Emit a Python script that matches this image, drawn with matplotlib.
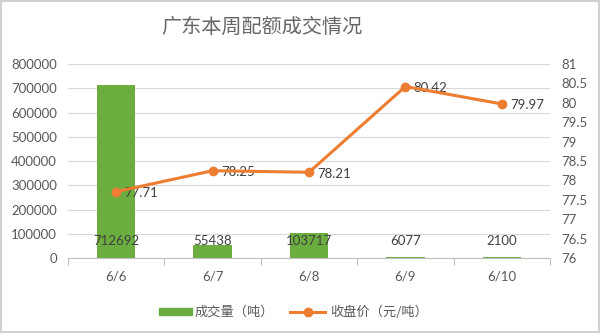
import matplotlib
matplotlib.use("Agg")
import matplotlib.pyplot as plt
from matplotlib.patches import Rectangle
import numpy as np

dates = ["6/6", "6/7", "6/8", "6/9", "6/10"]
volume = [712692, 55438, 103717, 6077, 2100]
price = [77.71, 78.25, 78.21, 80.42, 79.97]
left_ticks = [0, 100000, 200000, 300000, 400000, 500000, 600000, 700000, 800000]
right_ticks = [76, 76.5, 77, 77.5, 78, 78.5, 79, 79.5, 80, 80.5, 81]

CJK = ["Noto Sans CJK SC", "DejaVu Sans"]
NUM = "Lato"
TXT = "#595959"
GREEN = "#6BAE3F"
ORANGE = "#ED7D31"

fig = plt.figure(figsize=(6, 3.36), dpi=100)
W, H = 600, 336
ax = fig.add_axes([68 / W, 1 - 258 / H, (550 - 68) / W, (258 - 64) / H])
ax2 = ax.twinx()

x = np.arange(len(dates))
ax.bar(x, volume, width=0.4, color=GREEN, zorder=2)
ax.set_ylim(0, 800000)
ax.set_xlim(-0.5, len(dates) - 0.5)
ax.set_yticks(left_ticks)
ax.set_yticklabels([str(v) for v in left_ticks], fontsize=9.5, color=TXT, family=NUM)
ax.set_xticks(x)
ax.set_xticklabels(dates, fontsize=9.5, color=TXT, family=NUM)
ax.tick_params(axis="x", length=0, pad=9)
ax.tick_params(axis="y", length=0, pad=8)
ax.set_xticks(np.arange(-0.5, len(dates), 1), minor=True)
ax.tick_params(axis="x", which="minor", length=5, color="#BFBFBF", width=0.8)
ax.grid(axis="y", color="#D9D9D9", linewidth=0.8, zorder=0)
for s in ["top", "right", "left"]:
    ax.spines[s].set_visible(False)
    ax2.spines[s].set_visible(False)
ax2.spines["bottom"].set_visible(False)
ax.spines["bottom"].set_color("#BFBFBF")
ax.spines["bottom"].set_linewidth(0.8)

for xi, v in zip(x, volume):
    ax.annotate(str(v), (xi, 0), xytext=(0, 12), textcoords="offset points",
                ha="center", va="center", fontsize=9.5, color="#404040", family=NUM, zorder=5)

ax2.plot(x, price, color=ORANGE, linewidth=2.2, marker="o", markersize=6, zorder=4)
ax2.set_ylim(76, 81)
ax2.set_yticks(right_ticks)
ax2.set_yticklabels([f"{v:g}" for v in right_ticks], fontsize=9.5, color=TXT, family=NUM)
ax2.tick_params(axis="y", length=0, pad=8)
for xi, v in zip(x, price):
    ax2.annotate(f"{v:.2f}", (xi, v), xytext=(6, -1), textcoords="offset points",
                 ha="left", va="center", fontsize=9.5, color="#404040", family=NUM)

fig.text(262 / W, 1 - 27 / H, "广东本周配额成交情况", ha="center", va="center",
         fontsize=14.5, color="#666666", family=CJK, fontweight="light")

# legend
fig.patches.append(Rectangle((159 / W, 1 - 315 / H), 33 / W, 7 / H, transform=fig.transFigure,
                             color=GREEN, figure=fig))
fig.text(195 / W, 1 - 312 / H, "成交量（吨）", ha="left", va="center", fontsize=9.5,
         color=TXT, family=CJK)
fig.lines.append(plt.Line2D([290 / W, 325 / W], [1 - 312 / H, 1 - 312 / H], transform=fig.transFigure,
                            color=ORANGE, linewidth=2.2, marker=None, figure=fig))
fig.lines.append(plt.Line2D([307.5 / W], [1 - 312 / H], transform=fig.transFigure,
                            color=ORANGE, marker="o", markersize=6, figure=fig))
fig.text(330 / W, 1 - 312 / H, "收盘价（元/吨）", ha="left", va="center", fontsize=9.5,
         color=TXT, family=CJK)

fig.patches.append(Rectangle((0.002, 0.012), 0.996, 0.985, transform=fig.transFigure,
                             fill=False, edgecolor="#D0D0D0", linewidth=1.5, figure=fig))

fig.savefig("out.png", dpi=100)
